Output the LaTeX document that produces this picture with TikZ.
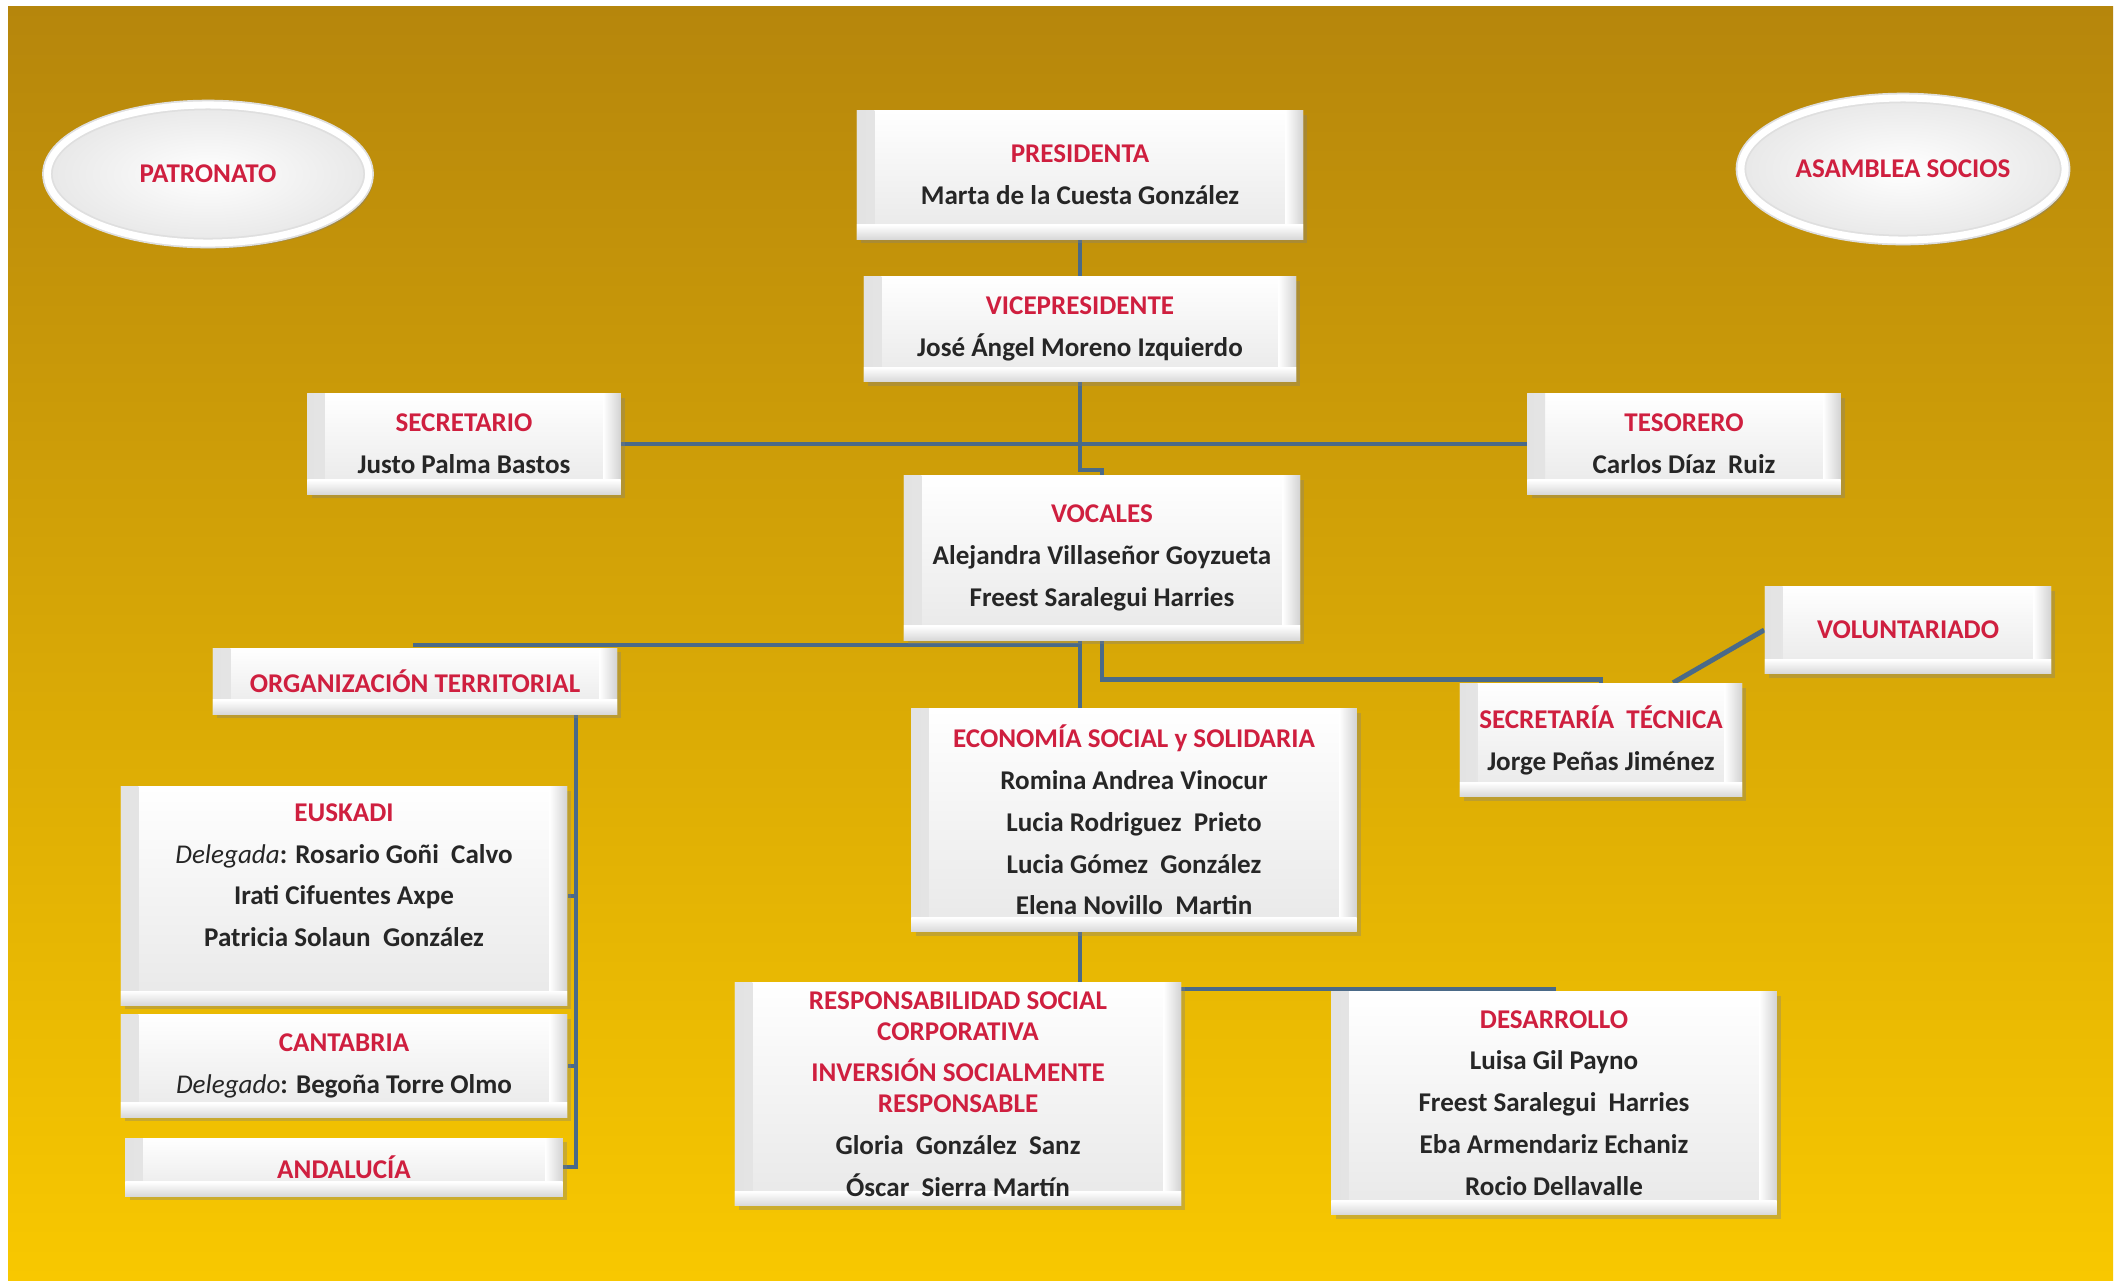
\documentclass[tikz,border=0pt]{standalone}
\usepackage{fontspec}
\setmainfont{Carlito}
\usepackage{tikz}
\usetikzlibrary{calc,shapes.geometric,shadows}
\definecolor{goldtop}{HTML}{B6860C}
\definecolor{goldbot}{HTML}{F8C800}
\definecolor{crest}{HTML}{CF1F3F}
\definecolor{inkgray}{HTML}{262626}
\definecolor{wire}{HTML}{4A6A88}
\pgfdeclarelayer{bg}
\pgfdeclarelayer{lines}
\pgfsetlayers{bg,lines,main}
\newcommand{\cargo}[1]{{\color{crest}#1}}
\newcommand{\deleg}{{\mdseries\itshape Delegada}}
\newcommand{\delego}{{\mdseries\itshape Delegado}}
\tikzset{
  card/.style={rectangle, align=center, text=inkgray, inner sep=0pt,
    font=\bfseries\fontsize{7.7}{11.9}\selectfont,
    top color=white, bottom color=gray!18,
    drop shadow={opacity=0.35, shadow xshift=1.2pt, shadow yshift=-1.2pt},
    path picture={
      \shade[left color=gray!22, right color=white] (path picture bounding box.south west) rectangle ([xshift=5pt]path picture bounding box.north west);
      \shade[left color=white, right color=gray!35] ([xshift=-5pt]path picture bounding box.south east) rectangle (path picture bounding box.north east);
      \shade[top color=white, bottom color=gray!30] ([yshift=4pt]path picture bounding box.south west) rectangle (path picture bounding box.south east);
    }},
  oval/.style={ellipse, inner sep=0pt, font=\bfseries\fontsize{7.7}{11.9}\selectfont,
    inner color=white, outer color=gray!18,
    draw=gray!25, double=white, double distance=2pt, line width=0.5pt,
    drop shadow={opacity=0.45, shadow xshift=1.2pt, shadow yshift=-1.5pt}},
  wireline/.style={draw=wire, line width=1.4pt}
}
\begin{document}
\begin{tikzpicture}[x=0.01cm, y=-0.01cm]
\useasboundingbox (0,0) rectangle (2116,1284);
\begin{pgfonlayer}{bg}
\fill[white] (0,0) rectangle (2116,1284);
\shade[top color=goldtop, bottom color=goldbot] (8,6) rectangle (2113,1280);
\end{pgfonlayer}

\node[oval, minimum width=3.21cm, minimum height=1.38cm] (patr) at (208,174) {\cargo{PATRONATO}};
\node[oval, minimum width=3.24cm, minimum height=1.42cm] (asam) at (1903,169) {\cargo{ASAMBLEA SOCIOS}};

\node[card, minimum width=4.46cm, minimum height=1.28cm] (pres) at (1080,175) {\cargo{PRESIDENTA}\\ Marta de la Cuesta González};
\node[card, minimum width=4.32cm, minimum height=1.05cm] (vice) at (1080,329) {\cargo{VICEPRESIDENTE}\\ José Ángel Moreno Izquierdo};
\node[card, minimum width=3.13cm, minimum height=1.00cm] (secr) at (464,444) {\cargo{SECRETARIO}\\ Justo Palma Bastos};
\node[card, minimum width=3.13cm, minimum height=1.00cm] (teso) at (1684,444) {\cargo{TESORERO}\\ Carlos Díaz\ \ Ruiz};
\node[card, minimum width=3.96cm, minimum height=1.64cm] (voca) at (1102,558) {\cargo{VOCALES}\\ Alejandra Villaseñor Goyzueta\\ Freest Saralegui Harries};
\node[card, minimum width=4.04cm, minimum height=0.66cm] (orgt) at (415,681) {\cargo{ORGANIZACIÓN TERRITORIAL}};
\node[card, minimum width=2.86cm, minimum height=0.87cm] (volu) at (1908,630) {\cargo{VOLUNTARIADO}};
\node[card, minimum width=2.82cm, minimum height=1.13cm] (sect) at (1601,740) {\cargo{SECRETARÍA\ \ TÉCNICA}\\ Jorge Peñas Jiménez};
\node[card, minimum width=4.45cm, minimum height=2.23cm] (econ) at (1134,820) {\cargo{ECONOMÍA SOCIAL y SOLIDARIA}\\ Romina Andrea Vinocur\\ Lucia Rodriguez\ \ Prieto\\ Lucia Gómez\ \ González\\ Elena Novillo\ \ Martin};
\node[card, minimum width=4.46cm, minimum height=2.18cm] (eusk) at (344,896) {\cargo{EUSKADI}\\ \deleg: Rosario Goñi\ \ Calvo\\ Irati Cifuentes Axpe\\ Patricia Solaun\ \ González\\ \mbox{}};
\node[card, minimum width=4.46cm, minimum height=1.02cm] (cant) at (344,1066) {\cargo{CANTABRIA}\\ \delego: Begoña Torre Olmo};
\node[card, minimum width=4.37cm, minimum height=0.58cm] (anda) at (344,1167) {\cargo{ANDALUCÍA}};
\node[card, minimum width=4.46cm, minimum height=2.23cm] (rsc) at (958,1094) {\cargo{RESPONSABILIDAD SOCIAL}\\[-3.1pt] \cargo{CORPORATIVA}\\ \cargo{INVERSIÓN SOCIALMENTE}\\[-3.1pt] \cargo{RESPONSABLE}\\ Gloria\ \ González\ \ Sanz\\ Óscar\ \ Sierra Martín};
\node[card, minimum width=4.45cm, minimum height=2.23cm] (desa) at (1554,1103) {\cargo{DESARROLLO}\\ Luisa Gil Payno\\ Freest Saralegui\ \ Harries\\ Eba Armendariz Echaniz\\ Rocio Dellavalle};

\coordinate (vknee) at (1080,470);
\coordinate (tknee) at (1080,645);
\coordinate (dknee) at (1080,989);
\coordinate (ospine) at (576,714);

\begin{pgfonlayer}{lines}
\draw[wireline] (pres.south) -- (vice.north);
\draw[wireline] (vice.south) -- (vknee) -| (voca.north);
\draw[wireline] (secr) -- (teso);
\draw[wireline] (tknee |- voca.south) -- (tknee |- econ.north);
\draw[wireline] (tknee) -| (orgt.north);
\draw[wireline] (voca.south) -- ++(0,39) -| (sect.north);
\draw[wireline] ([xshift=0.72cm]sect.north) -- (volu.west);
\draw[wireline] (ospine) |- (anda.east);
\draw[wireline] (eusk.east) -- (eusk.east -| ospine);
\draw[wireline] (cant.east) -- (cant.east -| ospine);
\draw[wireline] (dknee |- econ.south) -- (dknee |- rsc.north);
\draw[wireline] (dknee) -| (desa.north);
\end{pgfonlayer}
\end{tikzpicture}
\end{document}
